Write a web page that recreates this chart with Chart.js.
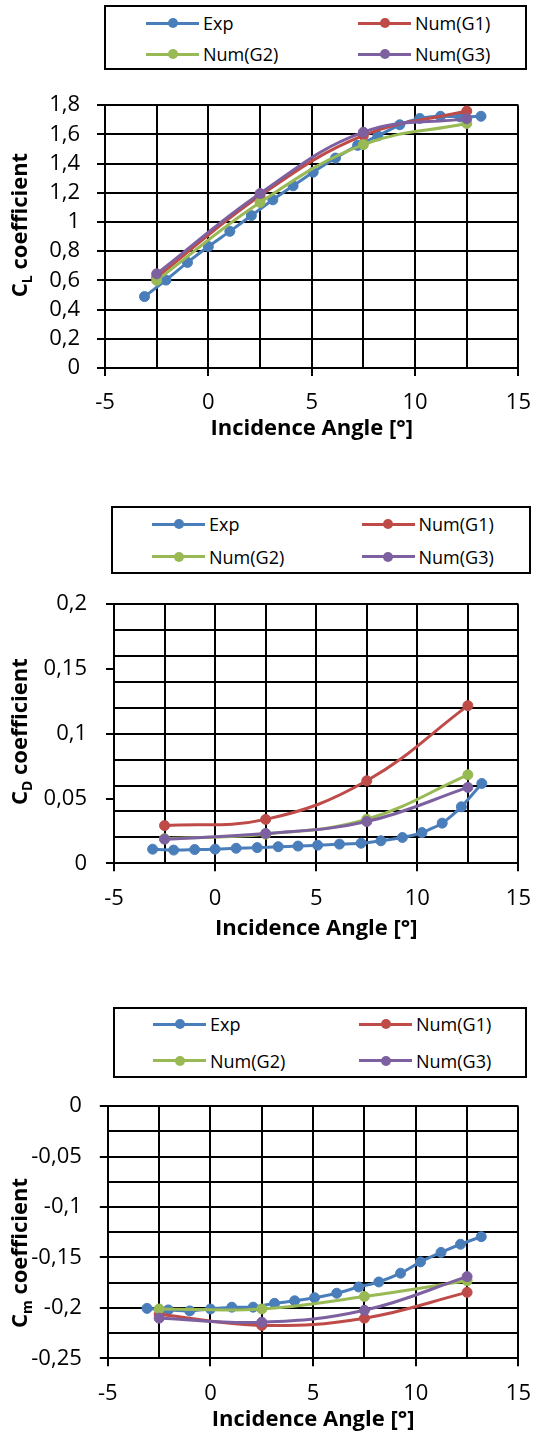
<!DOCTYPE html>
<html>
<head>
<meta charset="utf-8">
<script src="https://cdn.jsdelivr.net/npm/chart.js@4.4.1/dist/chart.umd.min.js"></script>
<style>
  body { margin: 0; background: #fff; width: 545px; height: 1433px; position: relative; overflow: hidden; font-family: "Open Sans", sans-serif; }
  canvas { position: absolute; left: 0; }
  .legend { position: absolute; border: 2px solid #000; box-sizing: border-box; background: #fff; z-index: 2; }
  .item { position: absolute; display: flex; align-items: center; font-size: 18px; line-height: 24px; height: 24px; margin-top: -12px; white-space: nowrap; color: #000; }
  .sw { position: relative; width: 53px; height: 3px; margin-right: 4px; }
  .sw i { position: absolute; left: 50%; top: 50%; width: 10px; height: 10px; border-radius: 50%; transform: translate(-50%, -50%); }
</style>
</head>
<body>
<canvas id="grafikCL"></canvas>
<canvas id="grafikCD"></canvas>
<canvas id="grafikCm"></canvas>
<script>
// Data seri
const seriesNames = ['Exp', 'Num(G1)', 'Num(G2)', 'Num(G3)'];
const seriesColors = ['#4A7EBB', '#BE4B48', '#98B954', '#7D60A0'];

const expAngle = [-3.09, -2.05, -1.01, 0, 1.04, 2.08, 3.12, 4.1, 5.07, 6.15, 7.22, 8.2, 9.26, 10.23, 11.23, 12.18, 13.19];
const numAngle = [-2.5, 2.5, 7.5, 12.5];

const expCL = [0.489, 0.602, 0.723, 0.832, 0.936, 1.044, 1.152, 1.248, 1.341, 1.438, 1.525, 1.59, 1.666, 1.709, 1.724, 1.72, 1.724];
const g1CL = [0.62, 1.18, 1.593, 1.76];
const g2CL = [0.60, 1.134, 1.53, 1.675];
const g3CL = [0.645, 1.195, 1.615, 1.708];

const expCD = [0.0109, 0.0102, 0.0106, 0.0109, 0.0116, 0.0121, 0.0128, 0.0133, 0.014, 0.0148, 0.0155, 0.0174, 0.0199, 0.0237, 0.031, 0.0436, 0.0616];
const g1CD = [0.0291, 0.0339, 0.0637, 0.1217];
const g2CD = [0.019, 0.0225, 0.034, 0.0683];
const g3CD = [0.0186, 0.023, 0.0322, 0.0586];

const expCm = [-0.2005, -0.202, -0.203, -0.2011, -0.1993, -0.1993, -0.1955, -0.193, -0.1899, -0.1855, -0.1793, -0.1743, -0.1656, -0.1544, -0.145, -0.1369, -0.1294];
const g1Cm = [-0.2064, -0.2174, -0.2102, -0.1846];
const g2Cm = [-0.2011, -0.2011, -0.1887, -0.1731];
const g3Cm = [-0.2102, -0.2142, -0.2024, -0.169];

// Tick & grid
const xMajor = [-5, 0, 5, 10, 15];
const xGrid = [-5, -2.5, 0, 2.5, 5, 7.5, 10, 12.5, 15];
const clMajor = [0, 0.2, 0.4, 0.6, 0.8, 1, 1.2, 1.4, 1.6, 1.8];
const clGrid = [0, 0.2, 0.4, 0.6, 0.8, 1, 1.2, 1.4, 1.6, 1.8];
const cdMajor = [0, 0.05, 0.1, 0.15, 0.2];
const cdGrid = [0, 0.02, 0.04, 0.06, 0.08, 0.1, 0.12, 0.14, 0.16, 0.18, 0.2];
const cmMajor = [-0.25, -0.2, -0.15, -0.1, -0.05, 0];
const cmGrid = [-0.25, -0.225, -0.2, -0.175, -0.15, -0.125, -0.1, -0.075, -0.05, -0.025, 0];

const FONT = '"Open Sans", sans-serif';
const W = 545;

const has = (arr, v) => arr.some(a => Math.abs(a - v) < 1e-9);
const fmt = v => String(+v.toFixed(3)).replace('.', ',');
const tickSet = (a, b) => [...new Set([...a, ...b].map(v => +v.toFixed(4)))].sort((p, q) => p - q);
const pts = (xs, ys) => xs.map((x, i) => ({ x: x, y: ys[i] }));

// Judul sumbu Y dengan subscript
const yTitlePlugin = {
  id: 'yTitle',
  afterDraw(chart, args, o) {
    const ctx = chart.ctx;
    ctx.save();
    ctx.translate(o.x, o.y);
    ctx.rotate(-Math.PI / 2);
    ctx.fillStyle = '#000';
    ctx.textBaseline = 'middle';
    const big = 'bold 22px ' + FONT, small = 'bold 14px ' + FONT;
    ctx.font = big;
    const wC = ctx.measureText('C').width;
    const wR = ctx.measureText(' coefficient').width;
    ctx.font = small;
    const wS = ctx.measureText(o.sub).width;
    let x0 = -(wC + wS + wR) / 2;
    ctx.font = big; ctx.fillText('C', x0, 0);
    ctx.font = small; ctx.fillText(o.sub, x0 + wC, 7);
    ctx.font = big; ctx.fillText(' coefficient', x0 + wC + wS, 0);
    ctx.restore();
  }
};

function buatLegend(g) {
  const box = document.createElement('div');
  box.className = 'legend';
  box.style.left = g.box[0] + 'px';
  box.style.top = g.box[1] + 'px';
  box.style.width = (g.box[2] - g.box[0]) + 'px';
  box.style.height = (g.box[3] - g.box[1]) + 'px';
  seriesNames.forEach((name, i) => {
    const it = document.createElement('div');
    it.className = 'item';
    it.style.left = g.cols[i % 2] + 'px';
    it.style.top = g.rows[Math.floor(i / 2)] + 'px';
    it.innerHTML = '<span class="sw" style="background:' + seriesColors[i] + '"><i style="background:' + seriesColors[i] + '"></i></span>' + name;
    box.appendChild(it);
  });
  document.body.appendChild(box);
}

function buatGrafik(id, g, series, yMin, yMax, yMajor, yGrid, sub) {
  const canvas = document.getElementById(id);
  canvas.width = W;
  canvas.height = g.bottom - g.top;
  canvas.style.top = g.top + 'px';
  buatLegend(g.legend);

  new Chart(canvas.getContext('2d'), {
    type: 'line',
    data: {
      datasets: series.map((s, i) => ({
        label: seriesNames[i],
        data: pts(i === 0 ? expAngle : numAngle, s),
        borderColor: seriesColors[i],
        backgroundColor: seriesColors[i],
        pointBackgroundColor: seriesColors[i],
        pointBorderColor: seriesColors[i],
        borderWidth: 3,
        pointRadius: 5,
        pointBorderWidth: 1,
        tension: i === 0 ? 0.2 : 0.4,
        order: 4 - i,
        clip: false
      }))
    },
    options: {
      responsive: false,
      animation: false,
      events: [],
      layout: { padding: { top: g.area[1] - g.top, right: W - g.area[2], left: 0, bottom: 0 } },
      plugins: {
        legend: { display: false },
        tooltip: { enabled: false },
        yTitle: { x: g.yTitle[0], y: g.yTitle[1] - g.top, sub: sub }
      },
      scales: {
        x: {
          type: 'linear', min: -5, max: 15,
          afterBuildTicks: s => { s.ticks = tickSet(xMajor, xGrid).map(v => ({ value: v })); },
          afterFit: s => { s.height = g.bottom - g.area[3]; },
          grid: {
            color: c => has(xGrid, c.tick.value) ? '#000' : 'rgba(0,0,0,0)',
            lineWidth: 2, tickLength: 8, tickWidth: 2,
            tickColor: c => has(xMajor, c.tick.value) ? '#000' : 'rgba(0,0,0,0)'
          },
          border: { color: '#000', width: 2 },
          ticks: { autoSkip: false, maxRotation: 0, padding: 14, color: '#000', font: { family: FONT, size: 22 },
            callback: v => has(xMajor, v) ? fmt(v) : '' },
          title: { display: true, text: 'Incidence Angle [°]', color: '#000',
            font: { family: FONT, size: 22, weight: 'bold', lineHeight: 1.2 }, padding: { top: 0, bottom: g.xTitlePad } }
        },
        y: {
          min: yMin, max: yMax,
          afterBuildTicks: s => { s.ticks = tickSet(yMajor, yGrid).map(v => ({ value: v })); },
          afterFit: s => { s.width = g.area[0]; },
          grid: {
            color: c => has(yGrid, c.tick.value) ? '#000' : 'rgba(0,0,0,0)',
            lineWidth: 2, tickLength: 8, tickWidth: 2,
            tickColor: c => has(yMajor, c.tick.value) ? '#000' : 'rgba(0,0,0,0)'
          },
          border: { color: '#000', width: 2 },
          ticks: { autoSkip: false, padding: g.yLabelPad, color: '#000', font: { family: FONT, size: 22 },
            callback: v => has(yMajor, v) ? fmt(v) : '' }
        }
      }
    },
    plugins: [yTitlePlugin]
  });
}

// Geometri tiap panel
const geoCL = { top: 75, bottom: 445, area: [105, 91, 528.3, 368], xTitlePad: 3, yLabelPad: 17, yTitle: [21, 225],
  legend: { box: [104, 5, 527, 70], cols: [40, 252], rows: [16, 47] } };
const geoCD = { top: 572, bottom: 945, area: [114, 588.3, 530.8, 863.3], xTitlePad: 3.5, yLabelPad: 19, yTitle: [21, 731.7],
  legend: { box: [111, 506, 531, 574], cols: [39, 248.5], rows: [16.3, 48.7] } };
const geoCm = { top: 1075, bottom: 1433, area: [107.8, 1091, 526.6, 1358.3], xTitlePad: 0.5, yLabelPad: 18, yTitle: [21, 1253],
  legend: { box: [113, 1006.7, 526.6, 1078.3], cols: [38, 244], rows: [15.6, 52.3] } };

buatGrafik('grafikCL', geoCL, [expCL, g1CL, g2CL, g3CL], 0, 1.8, clMajor, clGrid, 'L');
buatGrafik('grafikCD', geoCD, [expCD, g1CD, g2CD, g3CD], 0, 0.2, cdMajor, cdGrid, 'D');
buatGrafik('grafikCm', geoCm, [expCm, g1Cm, g2Cm, g3Cm], -0.25, 0, cmMajor, cmGrid, 'm');
</script>
</body>
</html>
